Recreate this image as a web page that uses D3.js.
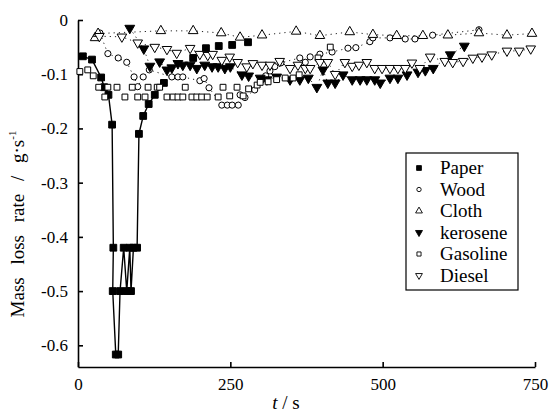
<!DOCTYPE html>
<html>
<head>
<meta charset="utf-8">
<script src="https://cdn.jsdelivr.net/npm/d3@7"></script>
<style>
    body { margin: 0; background: #fff; }
    svg { font-family: "Liberation Serif", "DejaVu Serif", serif; }
    .axis path, .axis line { stroke: #000; stroke-width: 1.6; }
    .axis text { font-size: 17px; fill: #000; font-family: "Liberation Serif", serif; }
    .legend text { font-size: 19px; fill: #000; }
</style>
</head>
<body>
<svg width="550" height="412"></svg>
<script>
// [t (s), mass loss rate (g/s)]
const paper = [
    [8, -0.067], [23, -0.073], [38, -0.106], [43, -0.124], [50, -0.138], [56, -0.193],
    [58, -0.42], [57, -0.5], [62, -0.617], [66, -0.617], [69, -0.5], [75, -0.42],
    [80, -0.5], [85, -0.42], [87, -0.5], [91, -0.42], [97, -0.42], [100, -0.21],
    [107, -0.177], [116, -0.155], [126, -0.138], [141, -0.116],
    [189, -0.07], [210, -0.052], [231, -0.048], [253, -0.046], [279, -0.041]
];
const wood = [
    [36, -0.024], [49, -0.062], [66, -0.07], [80, -0.078], [92, -0.105], [98, -0.123],
    [107, -0.105], [117, -0.092], [154, -0.105], [164, -0.105], [172, -0.105],
    [200, -0.112], [207, -0.108], [215, -0.125], [236, -0.157], [245, -0.157],
    [253, -0.157], [263, -0.157], [266, -0.138], [274, -0.143], [290, -0.129],
    [300, -0.112], [308, -0.103], [315, -0.094], [323, -0.086], [333, -0.079],
    [364, -0.07], [373, -0.078], [381, -0.068], [397, -0.063], [417, -0.059],
    [443, -0.052], [456, -0.051], [479, -0.04], [484, -0.033], [512, -0.033],
    [537, -0.035], [553, -0.035], [582, -0.028], [658, -0.018]
];
const cloth = [
    [28, -0.033], [33, -0.025], [136, -0.02], [189, -0.02], [235, -0.024], [266, -0.032],
    [302, -0.028], [358, -0.021], [397, -0.029], [446, -0.022], [484, -0.027],
    [523, -0.029], [566, -0.029], [607, -0.028], [658, -0.024], [704, -0.028],
    [745, -0.025]
];
const kerosene = [
    [85, -0.015], [108, -0.053], [118, -0.085], [134, -0.077], [146, -0.092], [154, -0.088],
    [164, -0.08], [172, -0.083], [184, -0.083], [195, -0.089], [208, -0.083],
    [220, -0.086], [230, -0.086], [241, -0.089], [250, -0.086], [269, -0.101],
    [280, -0.103], [299, -0.107], [310, -0.11], [326, -0.105], [348, -0.11],
    [364, -0.11], [378, -0.107], [392, -0.124], [402, -0.092], [410, -0.116],
    [422, -0.116], [435, -0.101], [450, -0.11], [463, -0.11], [474, -0.11],
    [487, -0.11], [496, -0.116], [512, -0.107], [525, -0.107], [540, -0.101],
    [558, -0.096], [570, -0.093], [583, -0.089], [611, -0.064], [634, -0.048]
];
const gasoline = [
    [3, -0.095], [16, -0.092], [25, -0.103], [34, -0.124], [44, -0.142], [49, -0.124],
    [64, -0.124], [77, -0.142], [89, -0.124], [98, -0.142], [110, -0.142], [115, -0.124],
    [130, -0.124], [134, -0.124], [146, -0.142], [156, -0.142], [164, -0.142],
    [172, -0.142], [176, -0.124], [187, -0.142], [195, -0.142], [203, -0.142],
    [212, -0.142], [230, -0.142], [238, -0.124], [249, -0.14], [261, -0.124],
    [271, -0.14], [280, -0.127], [294, -0.12], [299, -0.115], [312, -0.114],
    [326, -0.11], [340, -0.107], [353, -0.107], [363, -0.101], [394, -0.07],
    [414, -0.05]
];
const diesel = [
    [35, -0.03], [72, -0.031], [98, -0.042], [126, -0.05], [146, -0.054], [162, -0.061],
    [184, -0.052], [200, -0.063], [213, -0.065], [221, -0.063], [236, -0.074],
    [249, -0.068], [262, -0.078], [277, -0.086], [287, -0.08], [302, -0.083],
    [315, -0.083], [331, -0.076], [348, -0.089], [361, -0.083], [373, -0.089],
    [381, -0.089], [397, -0.078], [410, -0.078], [422, -0.1], [438, -0.078],
    [450, -0.085], [461, -0.083], [474, -0.078], [487, -0.089], [499, -0.089],
    [512, -0.089], [525, -0.089], [537, -0.089], [548, -0.079], [561, -0.089],
    [578, -0.068], [602, -0.076], [615, -0.078], [632, -0.076], [648, -0.07],
    [663, -0.068], [679, -0.064], [704, -0.057], [724, -0.057], [743, -0.053]
];
const paperLineEnd = 141; // solid line only drawn through the dip

const series = [
    { name: "Paper", data: paper, symbol: d3.symbolSquare, fill: "#000", size: 46 },
    { name: "Wood", data: wood, symbol: d3.symbolCircle, fill: "#fff", size: 30, dotted: true },
    { name: "Cloth", data: cloth, symbol: d3.symbolTriangle, fill: "#fff", size: 40, dotted: true },
    { name: "kerosene", data: kerosene, symbol: d3.symbolTriangle, fill: "#000", size: 42, flip: true, dotted: true },
    { name: "Gasoline", data: gasoline, symbol: d3.symbolSquare, fill: "#fff", size: 34 },
    { name: "Diesel", data: diesel, symbol: d3.symbolTriangle, fill: "#fff", size: 40, flip: true, dotted: true }
];

const xTicks = [0, 250, 500, 750];
const yTicks = [0, -0.1, -0.2, -0.3, -0.4, -0.5, -0.6];

var svg = d3.select("svg"),
    width = +svg.attr("width"),
    height = +svg.attr("height");

var x = d3.scaleLinear().domain([0, 750]).range([78, 535]);
var y = d3.scaleLinear().domain([-0.64, 0]).range([367, 20]);

var xAxis = svg.append("g")
    .attr("class", "axis")
    .attr("transform", `translate(0,${y(-0.64)})`)
    .call(d3.axisBottom(x).tickValues(xTicks).tickSize(-5).tickSizeOuter(0));
xAxis.selectAll("text").attr("y", 23).attr("dy", 0);

var yAxis = svg.append("g")
    .attr("class", "axis")
    .attr("transform", `translate(${x(0)},0)`)
    .call(d3.axisLeft(y).tickValues(yTicks).tickSize(-5).tickPadding(10).tickSizeOuter(0)
        .tickFormat(d => d === 0 ? "0" : d3.format(".1f")(d).replace("−", "-")));

// lines
var line = d3.line().x(d => x(d[0])).y(d => y(d[1]));

svg.append("path")
    .datum(paper.filter(d => d[0] <= paperLineEnd))
    .attr("fill", "none")
    .attr("stroke", "#000")
    .attr("stroke-width", 1.4)
    .attr("d", line);

series.filter(s => s.dotted).forEach(s => {
    svg.append("path")
        .datum(s.data)
        .attr("fill", "none")
        .attr("stroke", "#222")
        .attr("stroke-width", 1)
        .attr("stroke-dasharray", "1.2,4")
        .attr("d", line);
});

// markers
series.forEach(s => {
    var sym = d3.symbol().type(s.symbol).size(s.size);
    svg.append("g")
        .selectAll("path")
        .data(s.data)
        .enter().append("path")
        .attr("d", sym)
        .attr("transform", d => `translate(${x(d[0])},${y(d[1])})${s.flip ? " rotate(180)" : ""}`)
        .attr("fill", s.fill)
        .attr("stroke", "#000")
        .attr("stroke-width", 1);
});

// legend
var legend = svg.append("g").attr("class", "legend");
legend.append("rect")
    .attr("x", 406).attr("y", 153)
    .attr("width", 112).attr("height", 137)
    .attr("fill", "#fff")
    .attr("stroke", "#000")
    .attr("stroke-width", 1.2);

series.forEach((s, i) => {
    var ly = 168 + i * 21.5;
    var sym = d3.symbol().type(s.symbol).size(s.size * 0.5);
    legend.append("path")
        .attr("d", sym)
        .attr("transform", `translate(419,${ly})${s.flip ? " rotate(180)" : ""}`)
        .attr("fill", s.fill)
        .attr("stroke", "#000")
        .attr("stroke-width", 0.9);
    legend.append("text")
        .attr("x", 440)
        .attr("y", ly + 6)
        .text(s.name);
});

// axis titles
svg.append("text")
    .attr("transform", "translate(24,224) rotate(-90)")
    .attr("text-anchor", "middle")
    .attr("font-size", 19)
    .style("word-spacing", "8px")
    .html('Mass loss rate / g<tspan dy="-1">&#183;</tspan><tspan dy="1">s</tspan><tspan dy="-8" font-size="11">-1</tspan>');

svg.append("text")
    .attr("x", 286)
    .attr("y", 409)
    .attr("text-anchor", "middle")
    .attr("font-size", 19)
    .html('<tspan font-style="italic">t</tspan> / s');
</script>
</body>
</html>
